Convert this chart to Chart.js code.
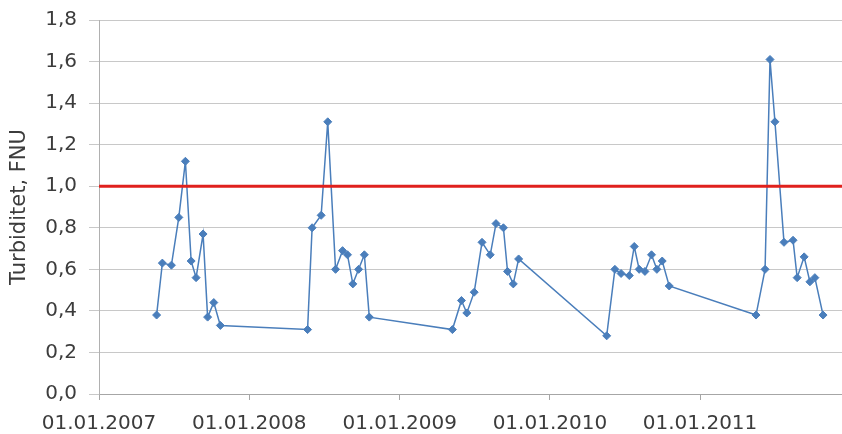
<!DOCTYPE html>
<html lang="no">
<head>
    <meta charset="UTF-8">
    <script src="https://cdn.jsdelivr.net/npm/chart.js"></script>
    <style>
body {
    margin: 0;
    background: #fff;
}
.wrap {
    width: 842px;
    height: 434px;
    position: relative;
}
    </style>
</head>
<body>
    <div class="wrap">
        <canvas id="grafico"></canvas>
    </div>
    <script>
// prøvedatoer og turbiditet (FNU), lest av figuren
const sampleDates = [
    '2007-05-21', '2007-06-04', '2007-06-26', '2007-07-14', '2007-07-30', '2007-08-13',
    '2007-08-25', '2007-09-11', '2007-09-22', '2007-10-07', '2007-10-23',
    '2008-05-22', '2008-06-02', '2008-06-24', '2008-07-10', '2008-07-29', '2008-08-15',
    '2008-08-27', '2008-09-09', '2008-09-23', '2008-10-07', '2008-10-19',
    '2009-05-09', '2009-05-31', '2009-06-13', '2009-07-01', '2009-07-20', '2009-08-09',
    '2009-08-23', '2009-09-10', '2009-09-20', '2009-10-04', '2009-10-17',
    '2010-05-19', '2010-06-08', '2010-06-23', '2010-07-13', '2010-07-25', '2010-08-06',
    '2010-08-20', '2010-09-05', '2010-09-18', '2010-10-01', '2010-10-18',
    '2011-05-17', '2011-06-08', '2011-06-20', '2011-07-02', '2011-07-24', '2011-08-15',
    '2011-08-25', '2011-09-11', '2011-09-25', '2011-10-07', '2011-10-27'
];
const turbidity = [
    0.38, 0.63, 0.62, 0.85, 1.12, 0.64,
    0.56, 0.77, 0.37, 0.44, 0.33,
    0.31, 0.80, 0.86, 1.31, 0.60, 0.69,
    0.67, 0.53, 0.60, 0.67, 0.37,
    0.31, 0.45, 0.39, 0.49, 0.73, 0.67,
    0.82, 0.80, 0.59, 0.53, 0.65,
    0.28, 0.60, 0.58, 0.57, 0.71, 0.60,
    0.59, 0.67, 0.60, 0.64, 0.52,
    0.38, 0.60, 1.61, 1.31, 0.73, 0.74,
    0.56, 0.66, 0.54, 0.56, 0.38
];
const yearTicks = ['2007-01-01', '2008-01-01', '2009-01-01', '2010-01-01', '2011-01-01'];
const axisStart = '2007-01-01';
const axisEnd = '2011-12-12';
const limitValue = 1.0;
const yTicks = [0, 0.2, 0.4, 0.6, 0.8, 1.0, 1.2, 1.4, 1.6, 1.8];

function toTime(s) {
    let p = s.split('-');
    return Date.UTC(+p[0], +p[1] - 1, +p[2]);
}

function formatDate(v) {
    let d = new Date(v);
    let dd = String(d.getUTCDate()).padStart(2, '0');
    let mm = String(d.getUTCMonth() + 1).padStart(2, '0');
    return dd + '.' + mm + '.' + d.getUTCFullYear();
}

let xMin = toTime(axisStart);
let xMax = toTime(axisEnd);

let points = sampleDates.map((d, i) => ({ x: toTime(d), y: turbidity[i] }));
let limitLine = [{ x: xMin, y: limitValue }, { x: xMax, y: limitValue }];

let tickFont = { family: 'DejaVu Sans', size: 20 };
let textColor = '#3c3c3c';

new Chart(document.getElementById('grafico'), {
    type: 'line',
    data: {
        datasets: [
            {
                label: 'Grenseverdi',
                data: limitLine,
                borderColor: '#e0211d',
                borderWidth: 3,
                pointRadius: 0
            },
            {
                label: 'Turbiditet',
                data: points,
                borderColor: '#4a7ebb',
                backgroundColor: '#4a7ebb',
                borderWidth: 1.5,
                tension: 0,
                pointStyle: 'rectRot',
                pointRadius: 4,
                pointBorderWidth: 1
            }
        ]
    },
    options: {
        responsive: true,
        maintainAspectRatio: false,
        animation: false,
        layout: {
            autoPadding: false,
            padding: { top: 20, right: 0, bottom: 0, left: 0 }
        },
        plugins: {
            legend: { display: false },
            tooltip: { enabled: false }
        },
        scales: {
            x: {
                type: 'linear',
                min: xMin,
                max: xMax,
                afterBuildTicks: function (scale) {
                    scale.ticks = yearTicks.map(t => ({ value: toTime(t) }));
                },
                afterFit: function (scale) {
                    scale.height = 40;
                },
                ticks: {
                    callback: v => formatDate(v),
                    font: tickFont,
                    color: textColor,
                    padding: 12,
                    maxRotation: 0,
                    autoSkip: false
                },
                grid: {
                    drawOnChartArea: false,
                    color: '#a6a6a6',
                    tickLength: 6
                },
                border: { color: '#a6a6a6' }
            },
            y: {
                min: 0,
                max: 1.8,
                afterBuildTicks: function (scale) {
                    scale.ticks = yTicks.map(t => ({ value: t }));
                },
                afterFit: function (scale) {
                    scale.width = 99;
                    scale.paddingTop = 0;
                    scale.paddingBottom = 0;
                },
                ticks: {
                    callback: v => v.toFixed(1).replace('.', ','),
                    font: tickFont,
                    color: textColor,
                    padding: 12
                },
                grid: {
                    color: '#c8c8c8',
                    tickLength: 10
                },
                border: { color: '#b0b0b0' },
                title: {
                    display: true,
                    text: 'Turbiditet, FNU',
                    font: { family: 'DejaVu Sans', size: 21 },
                    color: textColor,
                    padding: { top: 7, bottom: 0 }
                }
            }
        }
    }
});
    </script>
</body>
</html>
